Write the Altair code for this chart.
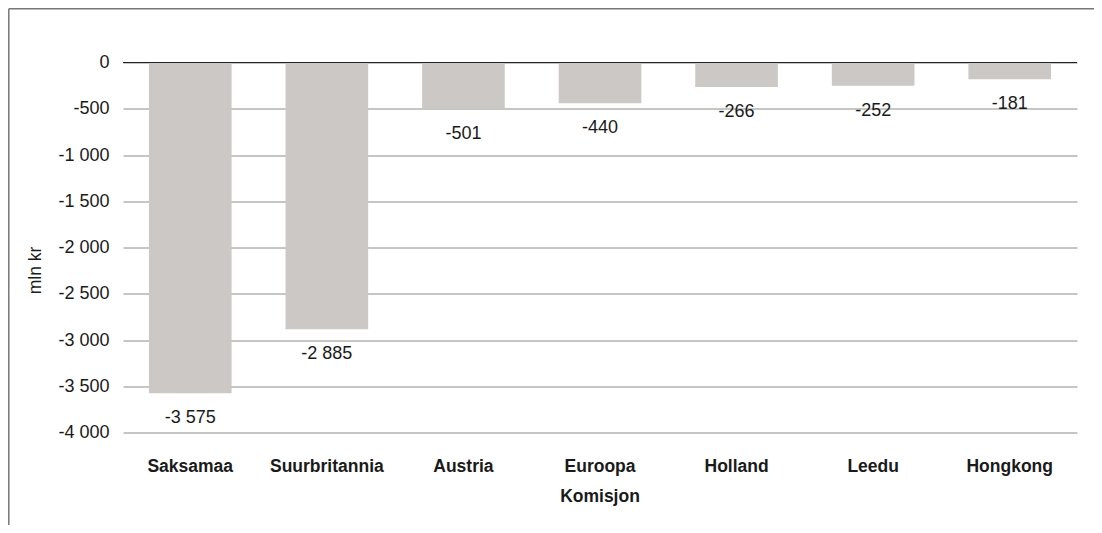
import altair as alt
import pandas as pd

categories = ["Saksamaa", "Suurbritannia", "Austria", "Euroopa Komisjon", "Holland", "Leedu", "Hongkong"]
values = [-3575, -2885, -501, -440, -266, -252, -181]
y_ticks = [0, -500, -1000, -1500, -2000, -2500, -3000, -3500, -4000]

df = pd.DataFrame({
    "country": categories,
    "value": values,
    "label": [f"{v:,}".replace(",", " ") for v in values],
})

FONT = "Liberation Sans"
BAR = "#cbc8c6"
GRID = "#8c8c8a"

x_enc = alt.X(
    "country:N",
    sort=categories,
    scale=alt.Scale(paddingInner=0.395, paddingOuter=0.19),
    axis=alt.Axis(
        title=None,
        labelAngle=0,
        labelFont=FONT,
        labelFontSize=17.5,
        labelFontWeight="bold",
        labelColor="#1a1a1a",
        labelPadding=25,
        labelBaseline="top",
        labelLineHeight=30,
        labelExpr="datum.value == 'Euroopa Komisjon' ? ['Euroopa', 'Komisjon'] : datum.label",
        domain=False,
        ticks=False,
    ),
)

y_enc = alt.Y(
    "value:Q",
    scale=alt.Scale(domain=[-4000, 0], nice=False, zero=False),
    axis=alt.Axis(
        title="mln kr",
        titleFont=FONT,
        titleFontSize=17.5,
        titleFontWeight="normal",
        titleColor="#1a1a1a",
        titleAngle=270,
        titleX=-88,
        titleY=207.5,
        titleAlign="center",
        titleBaseline="middle",
        values=y_ticks,
        labelExpr="(datum.value < 0 ? '-' : '') + replace(format(abs(datum.value), ','), ',', ' ')",
        labelFont=FONT,
        labelFontSize=18,
        labelColor="#1a1a1a",
        labelPadding=14,
        domain=False,
        ticks=False,
        grid=True,
        gridColor=GRID,
        gridWidth=1,
        gridOpacity=1,
    ),
)

bars = alt.Chart(df).mark_bar(color=BAR).encode(x=x_enc, y=y_enc, y2=alt.datum(0))

labels = alt.Chart(df).mark_text(
    font=FONT, fontSize=18, color="#1a1a1a", baseline="middle", align="center", dy=25
).encode(x=alt.X("country:N", sort=categories), y="value:Q", text="label:N")

zero = alt.Chart(pd.DataFrame({"z": [0]})).mark_rule(color="#222222", strokeWidth=1.2).encode(y="z:Q")

frame_df = pd.DataFrame({"f": [0]})
frame_left = alt.Chart(frame_df).mark_rule(color="#777777", strokeWidth=1.5).encode(
    x=alt.value(-114.2), y=alt.value(-53.8), y2=alt.value(600)
)
frame_top = alt.Chart(frame_df).mark_rule(color="#777777", strokeWidth=1.5).encode(
    x=alt.value(-114.2), x2=alt.value(1100), y=alt.value(-53.8)
)

chart = alt.layer(bars, labels, zero, frame_left, frame_top).properties(
    width=954,
    height=370,
    padding={"left": 115, "top": 54.5, "right": 17, "bottom": 92.5},
    autosize=alt.AutoSizeParams(type="none"),
).configure_view(stroke=None)

chart.save("out.html", embed_options={"renderer": "svg", "actions": False})
